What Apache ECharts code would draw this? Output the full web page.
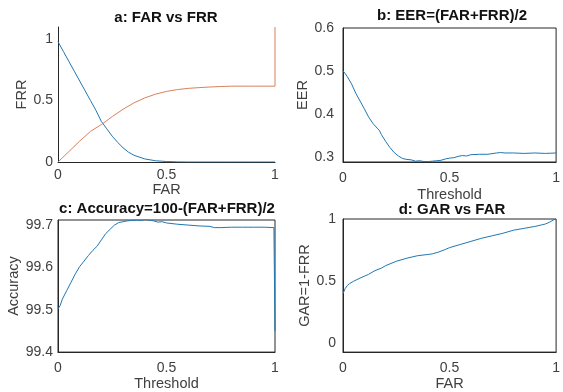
<!DOCTYPE html>
<html>
<head>
<meta charset="utf-8">
<script src="https://cdn.jsdelivr.net/npm/echarts@6.0.0/dist/echarts.min.js"></script>
<style>
  html, body { margin: 0; padding: 0; background: #fff; }
  #chart { width: 563px; height: 392px; }
</style>
</head>
<body>
<div id="chart"></div>
<script>
// a: FAR vs FRR
const farA = [0, 0.025, 0.05, 0.075, 0.1, 0.125, 0.15, 0.175, 0.2, 0.225, 0.25, 0.275, 0.3, 0.325, 0.35, 0.4, 0.45, 0.5, 0.55, 0.6, 0.7, 0.8, 0.9, 1.0]
const frrA = [0.98, 0.90, 0.82, 0.74, 0.66, 0.58, 0.50, 0.42, 0.33, 0.27, 0.21, 0.16, 0.115, 0.08, 0.055, 0.025, 0.01, 0.004, 0.001, 0, 0, 0, 0, 0]
const farA2 = [0, 0.05, 0.1, 0.15, 0.2, 0.25, 0.3, 0.35, 0.4, 0.45, 0.5, 0.55, 0.6, 0.65, 0.7, 0.75, 0.8, 0.9, 1.0, 1.0]
const frrA2 = [0, 0.085, 0.17, 0.25, 0.305, 0.37, 0.43, 0.482, 0.522, 0.553, 0.575, 0.59, 0.60, 0.606, 0.611, 0.615, 0.618, 0.618, 0.618, 1.1]

// b: EER vs threshold
const thrB = [0, 0.01, 0.02, 0.04, 0.06, 0.08, 0.1, 0.12, 0.14, 0.16, 0.17, 0.18, 0.2, 0.22, 0.24, 0.26, 0.28, 0.3, 0.32, 0.34, 0.36, 0.38, 0.4, 0.42, 0.44, 0.46, 0.48, 0.5, 0.52, 0.54, 0.56, 0.58, 0.6, 0.64, 0.68, 0.72, 0.74, 0.76, 0.8, 0.85, 0.9, 0.95, 1.0]
const eerB = [0.500, 0.494, 0.487, 0.470, 0.448, 0.430, 0.412, 0.393, 0.378, 0.367, 0.362, 0.352, 0.336, 0.322, 0.310, 0.302, 0.296, 0.294, 0.293, 0.290, 0.291, 0.289, 0.289, 0.290, 0.291, 0.292, 0.295, 0.297, 0.298, 0.301, 0.303, 0.302, 0.305, 0.306, 0.306, 0.309, 0.310, 0.309, 0.309, 0.308, 0.309, 0.308, 0.309]

// c: accuracy vs threshold
const thrC = [0, 0.01, 0.02, 0.04, 0.06, 0.08, 0.1, 0.12, 0.14, 0.16, 0.18, 0.2, 0.22, 0.24, 0.26, 0.28, 0.3, 0.32, 0.34, 0.36, 0.38, 0.4, 0.42, 0.44, 0.46, 0.48, 0.5, 0.55, 0.6, 0.65, 0.7, 0.72, 0.75, 0.8, 0.85, 0.9, 0.95, 0.995, 1.0]
const accC = [99.502, 99.510, 99.525, 99.545, 99.565, 99.585, 99.602, 99.615, 99.628, 99.640, 99.650, 99.665, 99.680, 99.690, 99.700, 99.706, 99.708, 99.710, 99.711, 99.712, 99.711, 99.713, 99.712, 99.710, 99.707, 99.708, 99.705, 99.702, 99.700, 99.698, 99.697, 99.694, 99.694, 99.695, 99.695, 99.695, 99.695, 99.694, 99.45]

// d: GAR vs FAR
const farD = [0, 0.005, 0.01, 0.02, 0.03, 0.05, 0.08, 0.1, 0.12, 0.15, 0.18, 0.2, 0.25, 0.3, 0.35, 0.4, 0.42, 0.45, 0.48, 0.5, 0.55, 0.6, 0.65, 0.7, 0.75, 0.8, 0.85, 0.9, 0.93, 0.95, 0.97, 0.99, 1.0]
const garD = [0.40, 0.42, 0.44, 0.465, 0.48, 0.50, 0.525, 0.54, 0.555, 0.585, 0.605, 0.625, 0.66, 0.685, 0.705, 0.715, 0.72, 0.735, 0.755, 0.77, 0.795, 0.82, 0.845, 0.865, 0.885, 0.91, 0.925, 0.94, 0.952, 0.96, 0.975, 0.995, 1.0]

const xTicks = [0, 0.5, 1]
const yTicksA = [0, 0.5, 1]
const yTicksB = [0.3, 0.4, 0.5, 0.6]
const yTicksC = [99.4, 99.5, 99.6, 99.7]
const yTicksD = [0, 0.5, 1]

const FONT = 'Liberation Sans, Arial, Helvetica, sans-serif'
const AXIS = '#262626'
const TEXT = '#404040'
const BLUE = '#1f77b4'
const ORANGE = '#d9805a'

const pairs = (xs, ys) => xs.map((x, i) => [x, ys[i]])

function xAxis(gridIndex, name, gap, margin) {
  return {
    type: 'value', gridIndex, min: 0, max: 1,
    name, nameLocation: 'middle', nameGap: gap,
    nameTextStyle: { fontFamily: FONT, fontSize: 14.5, color: TEXT },
    axisLine: { show: true, onZero: false, lineStyle: { color: AXIS, width: 1 } },
    axisTick: { show: false },
    splitLine: { show: false },
    axisLabel: { customValues: xTicks, margin, fontFamily: FONT, fontSize: 14, color: TEXT,
      formatter: v => String(v) }
  }
}

function yAxis(gridIndex, name, gap, margin, min, max, ticks) {
  return {
    type: 'value', gridIndex, min, max,
    name, nameLocation: 'middle', nameGap: gap,
    nameTextStyle: { fontFamily: FONT, fontSize: 14.5, color: TEXT },
    axisLine: { show: true, onZero: false, lineStyle: { color: AXIS, width: 1 } },
    axisTick: { show: false },
    splitLine: { show: false },
    axisLabel: { customValues: ticks, margin, fontFamily: FONT, fontSize: 14, color: TEXT,
      formatter: v => String(+v.toFixed(2)) }
  }
}

function title(text, cx, top) {
  return { text, left: cx, top, textAlign: 'center', padding: 0,
    textStyle: { fontFamily: FONT, fontSize: 15, fontWeight: 'bold', color: '#111' } }
}

function line(xi, yi, data, color) {
  return { type: 'line', xAxisIndex: xi, yAxisIndex: yi, data, symbol: 'none',
    lineStyle: { color, width: 1 }, itemStyle: { color } }
}

const chart = echarts.init(document.getElementById('chart'), null, { renderer: 'canvas' })

chart.setOption({
  animation: false,
  backgroundColor: '#fff',
  title: [
    title('a: FAR vs FRR', 166, 10),
    title('b: EER=(FAR+FRR)/2', 452, 8),
    title('c: Accuracy=100-(FAR+FRR)/2', 167, 201),
    title('d: GAR vs FAR', 452, 202)
  ],
  grid: [
    { left: 58, top: 27, width: 217, height: 135, show: false },
    { left: 343, top: 28, width: 217, height: 134, show: true, borderColor: AXIS, borderWidth: 1 },
    { left: 58, top: 220, width: 217, height: 134, show: true, borderColor: AXIS, borderWidth: 1 },
    { left: 343, top: 219, width: 218, height: 135, show: true, borderColor: AXIS, borderWidth: 1 }
  ],
  xAxis: [
    xAxis(0, 'FAR', 19, 6),
    xAxis(1, 'Threshold', 25, 9),
    xAxis(2, 'Threshold', 22, 9),
    xAxis(3, 'FAR', 22, 9)
  ],
  yAxis: [
    yAxis(0, 'FRR', 27, 5, 0, 1.1, yTicksA),
    yAxis(1, 'EER', 26, 9, 0.288, 0.6, yTicksB),
    yAxis(2, 'Accuracy', 33, 5, 99.4, 99.712, yTicksC),
    yAxis(3, 'GAR=1-FRR', 27, 7, -0.07, 1, yTicksD)
  ],
  series: [
    line(0, 0, pairs(farA, frrA), BLUE),
    line(0, 0, pairs(farA2, frrA2), ORANGE),
    line(1, 1, pairs(thrB, eerB), BLUE),
    line(2, 2, pairs(thrC, accC), BLUE),
    line(3, 3, pairs(farD, garD), BLUE)
  ]
})
</script>
</body>
</html>
